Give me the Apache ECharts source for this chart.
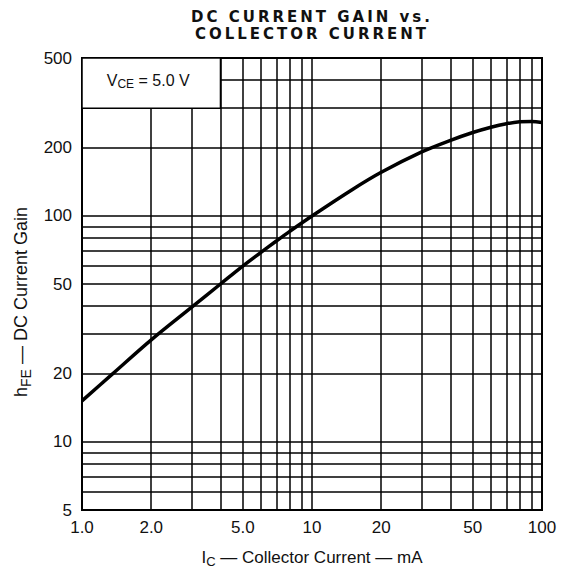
<!DOCTYPE html>
<html>
<head>
<meta charset="utf-8">
<script src="https://cdn.jsdelivr.net/npm/echarts@6/dist/echarts.min.js"></script>
<style>
html,body{margin:0;padding:0;background:#fff;}
#chart{width:563px;height:573px;}
#chart text[style*="DejaVu"]{letter-spacing:3px;}
</style>
</head>
<body>
<div id="chart"></div>
<script>
// Collector current (mA) and DC current gain
const collectorCurrent = [1, 1.35, 2, 3, 4, 5, 6, 7, 8, 10, 15, 20, 30, 40, 50, 60, 70, 80, 90, 100];
const dcGain = [15.2, 19.9, 28.3, 39.5, 50, 60, 69, 77.5, 85.5, 100, 131, 156, 192, 216, 234, 247, 256, 261, 262, 259];

// Tick labels
const xTickValues = [1, 2, 5, 10, 20, 50, 100];
const xTickLabels = ['1.0', '2.0', '5.0', '10', '20', '50', '100'];
const yTickValues = [5, 10, 20, 50, 100, 200, 500];
const yTickLabels = ['5', '10', '20', '50', '100', '200', '500'];

// Log grid lines
const xGridValues = [2, 3, 4, 5, 6, 7, 8, 9, 10, 20, 30, 40, 50, 60, 70, 80, 90];
const yGridValues = [6, 7, 8, 9, 10, 20, 30, 40, 50, 60, 70, 80, 90, 100, 200, 300, 400];

const chart = echarts.init(document.getElementById('chart'), null, {renderer: 'svg'});
const FONT = 'Liberation Sans';

const option = {
  animation: false,
  backgroundColor: '#fff',
  title: {
    text: 'DC CURRENT GAIN vs.\nCOLLECTOR CURRENT',
    left: 307, top: 3, textAlign: 'center',
    textStyle: {fontFamily: 'DejaVu Sans', fontWeight: 'bold', fontSize: 15, color: '#111', lineHeight: 17}
  },
  grid: {left: 82, right: 21, top: 58, bottom: 62, show: true, borderColor: '#000', borderWidth: 2, backgroundColor: 'transparent'},
  xAxis: {
    type: 'log', logBase: 10, min: 1, max: 100,
    name: '{i|I}{s|C}{t| — Collector Current — mA}',
    nameLocation: 'middle', nameGap: 36,
    nameTextStyle: {
      rich: {
        i: {fontFamily: FONT, fontSize: 17, color: '#111'},
        s: {fontFamily: FONT, fontSize: 13, color: '#111', padding: [9, 0, 0, 0]},
        t: {fontFamily: FONT, fontSize: 17, color: '#111'}
      }
    },
    axisLine: {show: true, lineStyle: {color: '#000', width: 2}},
    axisTick: {show: false},
    splitLine: {show: false},
    minorTick: {show: false},
    axisLabel: {
      customValues: xTickValues,
      margin: 9,
      fontFamily: FONT, fontSize: 17, color: '#111',
      formatter: function (v) {
        const i = xTickValues.findIndex(t => Math.abs(t - v) < 1e-6 * t);
        return i >= 0 ? xTickLabels[i] : '';
      }
    }
  },
  yAxis: {
    type: 'log', logBase: 10, min: 5, max: 500,
    name: '{i|h}{s|FE}{t| — DC Current Gain}',
    nameLocation: 'middle', nameGap: 46, nameRotate: 90,
    nameTextStyle: {
      padding: [0, 36, 0, 0],
      rich: {
        i: {fontFamily: FONT, fontSize: 18, color: '#111'},
        s: {fontFamily: FONT, fontSize: 14, color: '#111', padding: [9, 0, 0, 0]},
        t: {fontFamily: FONT, fontSize: 18, color: '#111'}
      }
    },
    axisLine: {show: true, lineStyle: {color: '#000', width: 2}},
    axisTick: {show: false},
    splitLine: {show: false},
    minorTick: {show: false},
    axisLabel: {
      customValues: yTickValues,
      margin: 10,
      fontFamily: FONT, fontSize: 17, color: '#111',
      formatter: function (v) {
        const i = yTickValues.findIndex(t => Math.abs(t - v) < 1e-6 * t);
        return i >= 0 ? yTickLabels[i] : '';
      }
    }
  },
  series: [
    {
      type: 'line', data: [], z: 2, silent: true,
      markLine: {
        z: 2,
        silent: true, symbol: ['none', 'none'], animation: false,
        label: {show: false},
        lineStyle: {color: '#000', width: 1.5, type: 'solid'},
        data: xGridValues.map(v => ({xAxis: v})).concat(yGridValues.map(v => ({yAxis: v})))
      }
    },
    {
      type: 'line', data: [], z: 6, silent: true,
      markArea: {
        z: 6,
        silent: true,
        itemStyle: {color: '#fff', borderColor: '#000', borderWidth: 1.5},
        label: {
          show: true, position: 'inside', offset: [-3, -3],
          formatter: '{v|V}{s|CE}{v| = 5.0 V}',
          rich: {
            v: {fontFamily: FONT, fontSize: 16, color: '#111'},
            s: {fontFamily: FONT, fontSize: 12, color: '#111', padding: [8, 0, 0, 0]}
          }
        },
        data: [[{xAxis: 1, yAxis: 500}, {xAxis: 4, yAxis: 300}]]
      }
    },
    {
      type: 'line', z: 4, smooth: 0.35, showSymbol: false, symbol: 'none',
      lineStyle: {color: '#000', width: 3.5},
      data: collectorCurrent.map((x, i) => [x, dcGain[i]])
    }
  ]
};
chart.setOption(option);
</script>
</body>
</html>
